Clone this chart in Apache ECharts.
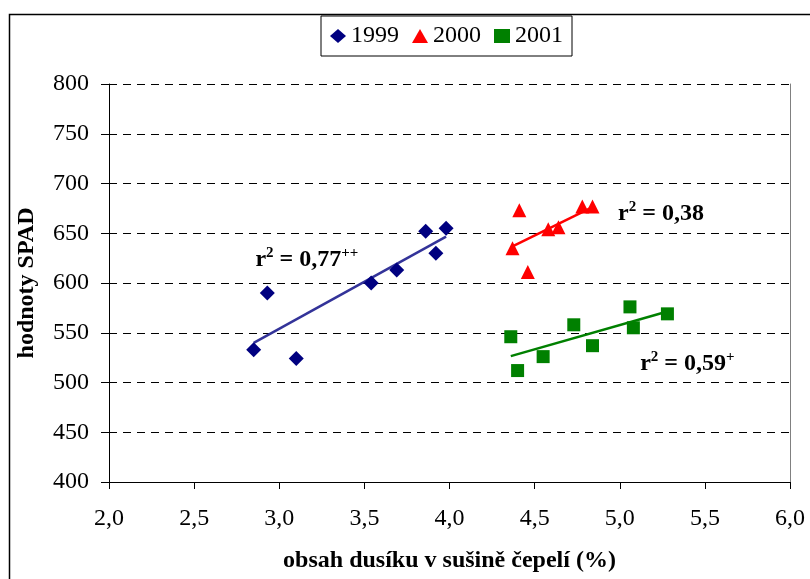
<!DOCTYPE html>
<html>
<head>
<meta charset="utf-8">
<script src="https://cdn.jsdelivr.net/npm/echarts@6/dist/echarts.min.js"></script>
<style>
html,body{margin:0;padding:0;background:#fff;}
#main{width:810px;height:579px;}
</style>
</head>
<body>
<div id="main"></div>
<script>
const seriesNames = ['1999', '2000', '2001'];
const data1999 = [[2.85,533],[2.93,590],[3.10,524],[3.54,600],[3.69,613],[3.86,652],[3.92,630],[3.98,655]];
const data2000 = [[4.37,635],[4.41,673],[4.46,611],[4.58,654],[4.64,656],[4.78,677],[4.84,677]];
const data2001 = [[4.36,546],[4.40,512],[4.55,526],[4.73,558],[4.84,537],[5.06,576],[5.08,555],[5.28,569]];
const xTicks = [2.0,2.5,3.0,3.5,4.0,4.5,5.0,5.5,6.0];
const yTicks = [400,450,500,550,600,650,700,750,800];
const annotations = [
  {x:2.86, y:624, r:'0,77', sup:'++'},
  {x:4.99, y:671, r:'0,38', sup:''},
  {x:5.12, y:520, r:'0,59', sup:'+'}
];

function regression(d){
  const n=d.length;
  let sx=0,sy=0;d.forEach(p=>{sx+=p[0];sy+=p[1];});
  const mx=sx/n,my=sy/n;
  let sxy=0,sxx=0;d.forEach(p=>{sxy+=(p[0]-mx)*(p[1]-my);sxx+=(p[0]-mx)*(p[0]-mx);});
  const b=sxy/sxx,a=my-b*mx;
  const xs=d.map(p=>p[0]);
  const x0=Math.min(...xs),x1=Math.max(...xs);
  return [[x0,a+b*x0],[x1,a+b*x1]];
}

const FONT = '"Liberation Serif","Times New Roman",serif';
const chart = echarts.init(document.getElementById('main'));

const scatterDefs = [
  {name:seriesNames[0], data:data1999, symbol:'diamond', size:15, color:'#000080', lineColor:'#333399'},
  {name:seriesNames[1], data:data2000, symbol:'triangle', size:14, color:'#FF0000', lineColor:'#FF0000'},
  {name:seriesNames[2], data:data2001, symbol:'rect', size:13, color:'#008000', lineColor:'#008000'}
];

const series = [];
scatterDefs.forEach(s=>{
  series.push({
    type:'line', data:regression(s.data), showSymbol:false, symbol:'none',
    lineStyle:{color:s.lineColor,width:2.5}, silent:true, z:2, animation:false
  });
});
scatterDefs.forEach(s=>{
  series.push({
    name:s.name, type:'scatter', data:s.data, symbol:s.symbol, symbolSize:s.size,
    itemStyle:{color:s.color, opacity:1}, z:3, animation:false
  });
});
series.push({
  type:'scatter', symbolSize:0, silent:true, animation:false,
  itemStyle:{color:'#000'},
  data: annotations.map(a=>({value:[a.x,a.y], label:{
    show:true, position:[0,0], align:'left', verticalAlign:'middle',
    color:'#000', textBorderWidth:0, opacity:1,
    formatter:'{m|r}{s|2}{m| = '+a.r+'}'+(a.sup?'{s|'+a.sup+'}':''),
    rich:{
      m:{fontFamily:FONT,fontWeight:'bold',fontSize:24,color:'#000',textBorderWidth:0,lineHeight:26,verticalAlign:'bottom'},
      s:{fontFamily:FONT,fontWeight:'bold',fontSize:15,color:'#000',textBorderWidth:0,lineHeight:26,verticalAlign:'top'}
    }
  }}))
});

chart.setOption({
  animation:false,
  backgroundColor:'#fff',
  grid:{left:109,right:20,top:84,bottom:97},
  legend:{
    data:seriesNames, top:16, left:321,
    borderColor:'#000', borderWidth:1, padding:[7,9],
    itemWidth:16, itemHeight:14, itemGap:13,
    textStyle:{fontFamily:FONT,fontSize:24,color:'#000',lineHeight:26}
  },
  xAxis:{
    type:'value', min:2, max:6, interval:0.5,
    name:'obsah dusíku v sušině čepelí (%)', nameLocation:'middle', nameGap:67,
    nameTextStyle:{fontFamily:FONT,fontWeight:'bold',fontSize:24,color:'#000'},
    axisLine:{lineStyle:{color:'#000',width:1}},
    axisTick:{show:true,length:7,lineStyle:{color:'#000'}},
    axisLabel:{fontFamily:FONT,fontSize:24,color:'#000',margin:25,
      formatter:v=>v.toFixed(1).replace('.',',')},
    splitLine:{show:false}
  },
  yAxis:[{
    type:'value', min:400, max:800, interval:50,
    name:'hodnoty SPAD', nameLocation:'middle', nameGap:70, nameRotate:90,
    nameTextStyle:{fontFamily:FONT,fontWeight:'bold',fontSize:24,color:'#000'},
    axisLine:{show:true,lineStyle:{color:'#000',width:1}},
    axisTick:{show:true,length:8,lineStyle:{color:'#000'}},
    axisLabel:{fontFamily:FONT,fontSize:24,color:'#000',margin:20},
    splitLine:{show:true,lineStyle:{color:'#000',type:[8,6],width:1}}
  },{
    type:'value', min:400, max:800, interval:50, position:'right',
    axisLine:{show:true,lineStyle:{color:'#808080',width:1}},
    axisTick:{show:false}, axisLabel:{show:false}, splitLine:{show:false}
  }],
  graphic:[{
    type:'rect', left:7, top:12, shape:{width:830,height:620},
    style:{fill:'none',stroke:'#000',lineWidth:1.5}, silent:true, z:-1
  }],
  series:series
});
</script>
</body>
</html>
